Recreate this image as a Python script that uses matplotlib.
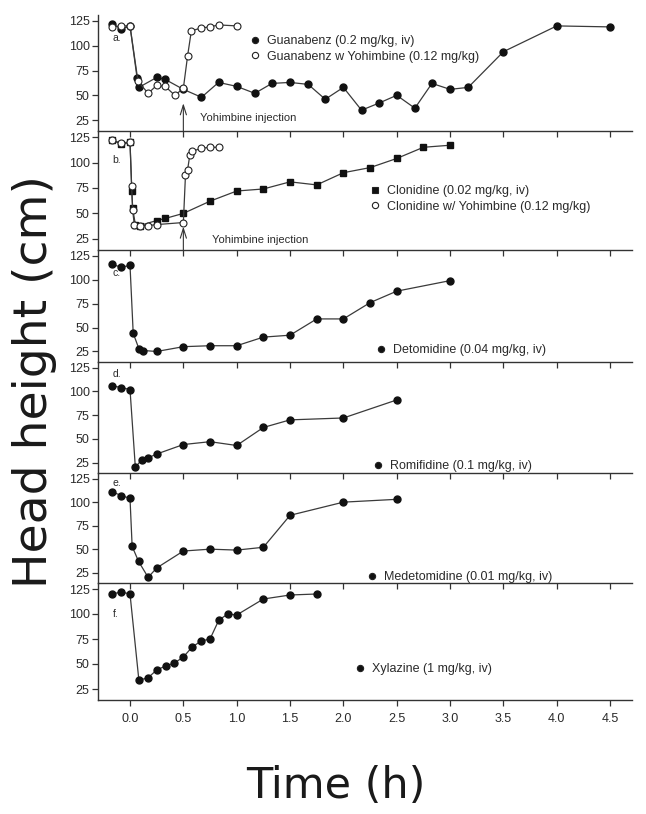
import matplotlib
matplotlib.use("Agg")
import matplotlib.pyplot as plt
from matplotlib.lines import Line2D

plt.rcParams['font.family'] = ['Liberation Sans', 'DejaVu Sans']

# ---------------- data ----------------
guan_t = [-0.17, -0.08, 0.0, 0.067, 0.083, 0.25, 0.33, 0.5, 0.67, 0.83, 1.0, 1.17, 1.33,
          1.5, 1.67, 1.83, 2.0, 2.17, 2.33, 2.5, 2.67, 2.83, 3.0, 3.17, 3.5, 4.0, 4.5]
guan_v = [122, 117, 120, 67, 58, 68, 66, 56, 48, 63, 59, 52, 62,
          63, 61, 46, 58, 35, 42, 50, 37, 62, 56, 58, 94, 120, 119]
guany_t = [-0.17, -0.08, 0.0, 0.075, 0.17, 0.25, 0.33, 0.42, 0.5, 0.54, 0.575, 0.67, 0.75, 0.83, 1.0]
guany_v = [119, 120, 120, 64, 52, 60, 59, 50, 57, 90, 115, 118, 119, 121, 120]

clon_t = [-0.17, -0.08, 0.0, 0.017, 0.025, 0.05, 0.09, 0.25, 0.33, 0.5, 0.75, 1.0, 1.25,
          1.5, 1.75, 2.0, 2.25, 2.5, 2.75, 3.0]
clon_v = [122, 118, 120, 72, 55, 39, 38, 43, 45, 50, 62, 72, 74,
          81, 78, 90, 95, 104, 115, 117]
clony_t = [-0.17, -0.08, 0.0, 0.015, 0.025, 0.04, 0.09, 0.17, 0.25, 0.5, 0.52, 0.54, 0.56,
           0.58, 0.67, 0.75, 0.83]
clony_v = [122, 119, 120, 77, 53, 39, 38, 38, 39, 41, 88, 93, 107, 111, 114, 115, 115]

deto_t = [-0.17, -0.08, 0.0, 0.03, 0.083, 0.125, 0.25, 0.5, 0.75, 1.0, 1.25, 1.5, 1.75,
          2.0, 2.25, 2.5, 3.0]
deto_v = [116, 113, 115, 44, 28, 26, 25, 30, 31, 31, 40, 42, 59, 59, 76, 88, 99]

romi_t = [-0.17, -0.08, 0.0, 0.05, 0.11, 0.17, 0.25, 0.5, 0.75, 1.0, 1.25, 1.5, 2.0, 2.5]
romi_v = [106, 104, 102, 20, 28, 30, 34, 44, 47, 43, 62, 70, 72, 91]

mede_t = [-0.17, -0.08, 0.0, 0.02, 0.08, 0.17, 0.25, 0.5, 0.75, 1.0, 1.25, 1.5, 2.0, 2.5]
mede_v = [111, 107, 104, 53, 37, 20, 30, 48, 50, 49, 52, 86, 100, 103]

xyla_t = [-0.17, -0.08, 0.0, 0.083, 0.167, 0.25, 0.333, 0.417, 0.5, 0.583, 0.667, 0.75,
          0.833, 0.917, 1.0, 1.25, 1.5, 1.75]
xyla_v = [120, 122, 120, 34, 36, 44, 48, 51, 57, 67, 73, 75, 94, 100, 99, 115, 119, 120]

y_ticks = [25, 50, 75, 100, 125]
x_ticks = [0.0, 0.5, 1.0, 1.5, 2.0, 2.5, 3.0, 3.5, 4.0, 4.5]
x_tick_labels = ["0.0", "0.5", "1.0", "1.5", "2.0", "2.5", "3.0", "3.5", "4.0", "4.5"]
panel_letters = ["a.", "b.", "c.", "d.", "e.", "f."]
letter_y = [108, 102, 107, 118, 120, 100]

# ---------------- layout / style ----------------
W, H = 646, 814
LINE = '#3a3a3a'
MK = '#111111'
TXT = '#2a2a2a'
XLIM = (-0.30, 4.705)
YLIM = (14, 131)
# panel top / bottom edges in pixels from the top of the figure
panel_edges = [(15, 131), (131, 250), (250, 362), (362, 473), (473, 583), (583, 700)]
AX_L, AX_R = 98, 632

fig = plt.figure(figsize=(W / 100, H / 100), dpi=100)
axes = []
for top, bot in panel_edges:
    axes.append(fig.add_axes([AX_L / W, 1 - bot / H, (AX_R - AX_L) / W, (bot - top) / H]))

for i, ax in enumerate(axes):
    ax.set_xlim(*XLIM)
    ax.set_ylim(*YLIM)
    ax.patch.set_alpha(0)
    for s in ('top', 'right'):
        ax.spines[s].set_visible(False)
    for s in ('left', 'bottom'):
        ax.spines[s].set_color('#333333')
        ax.spines[s].set_linewidth(1.0)
    ax.set_yticks(y_ticks)
    ax.set_xticks(x_ticks)
    ax.tick_params(direction='out', length=4, width=0.9, color='#333333',
                   labelsize=9, labelcolor=TXT, pad=2)
    if i < 5:
        ax.set_xticklabels([])
    else:
        ax.set_xticklabels(x_tick_labels)
        ax.tick_params(axis='x', pad=5)
    ax.text(-0.165, letter_y[i], panel_letters[i],
            fontsize=7.5, color=TXT, ha='left', va='center')

def plot_filled(ax, t, v, marker='o', ms=5):
    ax.plot(t, v, '-', color=LINE, lw=0.9, marker=marker, ms=ms,
            mfc=MK, mec=MK, zorder=3, clip_on=False)

def plot_open(ax, t, v, ms=5):
    ax.plot(t, v, '-', color=LINE, lw=0.9, marker='o', ms=ms,
            mfc='white', mec='#222222', mew=0.8, zorder=4, clip_on=False)

def legend(ax, entries, x_px, y_px):
    handles = []
    labels = []
    for lab, marker, fill in entries:
        handles.append(Line2D([], [], ls='none', marker=marker, ms=4.5,
                              mfc=fill, mec='#222222', mew=0.8))
        labels.append(lab)
    ax.legend(handles, labels, loc='upper left', bbox_to_anchor=(x_px / W, 1 - y_px / H),
              bbox_transform=fig.transFigure, frameon=False,
              fontsize=9, handlelength=0.8, handletextpad=0.55, labelspacing=0.3,
              borderpad=0, borderaxespad=0, labelcolor=TXT)

def injection(ax, tip, tx, ty):
    ax.annotate('', xy=(0.5, tip), xytext=(0.5, YLIM[0]),
                arrowprops=dict(arrowstyle='->,head_length=0.7,head_width=0.22',
                                lw=0.8, color='#333333', shrinkA=0, shrinkB=0))
    ax.text(tx, ty, 'Yohimbine injection', fontsize=8, color=TXT, ha='left', va='center')

# a
ax = axes[0]
plot_filled(ax, guan_t, guan_v)
plot_open(ax, guany_t, guany_v)
legend(ax, [("Guanabenz (0.2 mg/kg, iv)", 'o', MK),
            ("Guanabenz w Yohimbine (0.12 mg/kg)", 'o', 'white')], 250, 35)
injection(ax, 42, 0.66, 27)

# b
ax = axes[1]
plot_filled(ax, clon_t, clon_v, marker='s', ms=5)
plot_open(ax, clony_t, clony_v)
legend(ax, [("Clonidine (0.02 mg/kg, iv)", 's', MK),
            ("Clonidine w/ Yohimbine (0.12 mg/kg)", 'o', 'white')], 370, 185)
injection(ax, 37, 0.77, 24)

# c - f
plot_filled(axes[2], deto_t, deto_v)
legend(axes[2], [("Detomidine (0.04 mg/kg, iv)", 'o', MK)], 376, 344)
plot_filled(axes[3], romi_t, romi_v)
legend(axes[3], [("Romifidine (0.1 mg/kg, iv)", 'o', MK)], 373, 460)
plot_filled(axes[4], mede_t, mede_v)
legend(axes[4], [("Medetomidine (0.01 mg/kg, iv)", 'o', MK)], 367, 571)
plot_filled(axes[5], xyla_t, xyla_v)
legend(axes[5], [("Xylazine (1 mg/kg, iv)", 'o', MK)], 355, 663)

fig.text(0.52, 0.034, 'Time (h)', fontsize=31, family='DejaVu Sans', color='#1a1a1a',
         ha='center', va='center')
fig.text(0.053, 0.531, 'Head height (cm)', fontsize=34, family='DejaVu Sans', color='#1a1a1a',
         ha='center', va='center', rotation=90)

fig.savefig('out.png', dpi=100)
